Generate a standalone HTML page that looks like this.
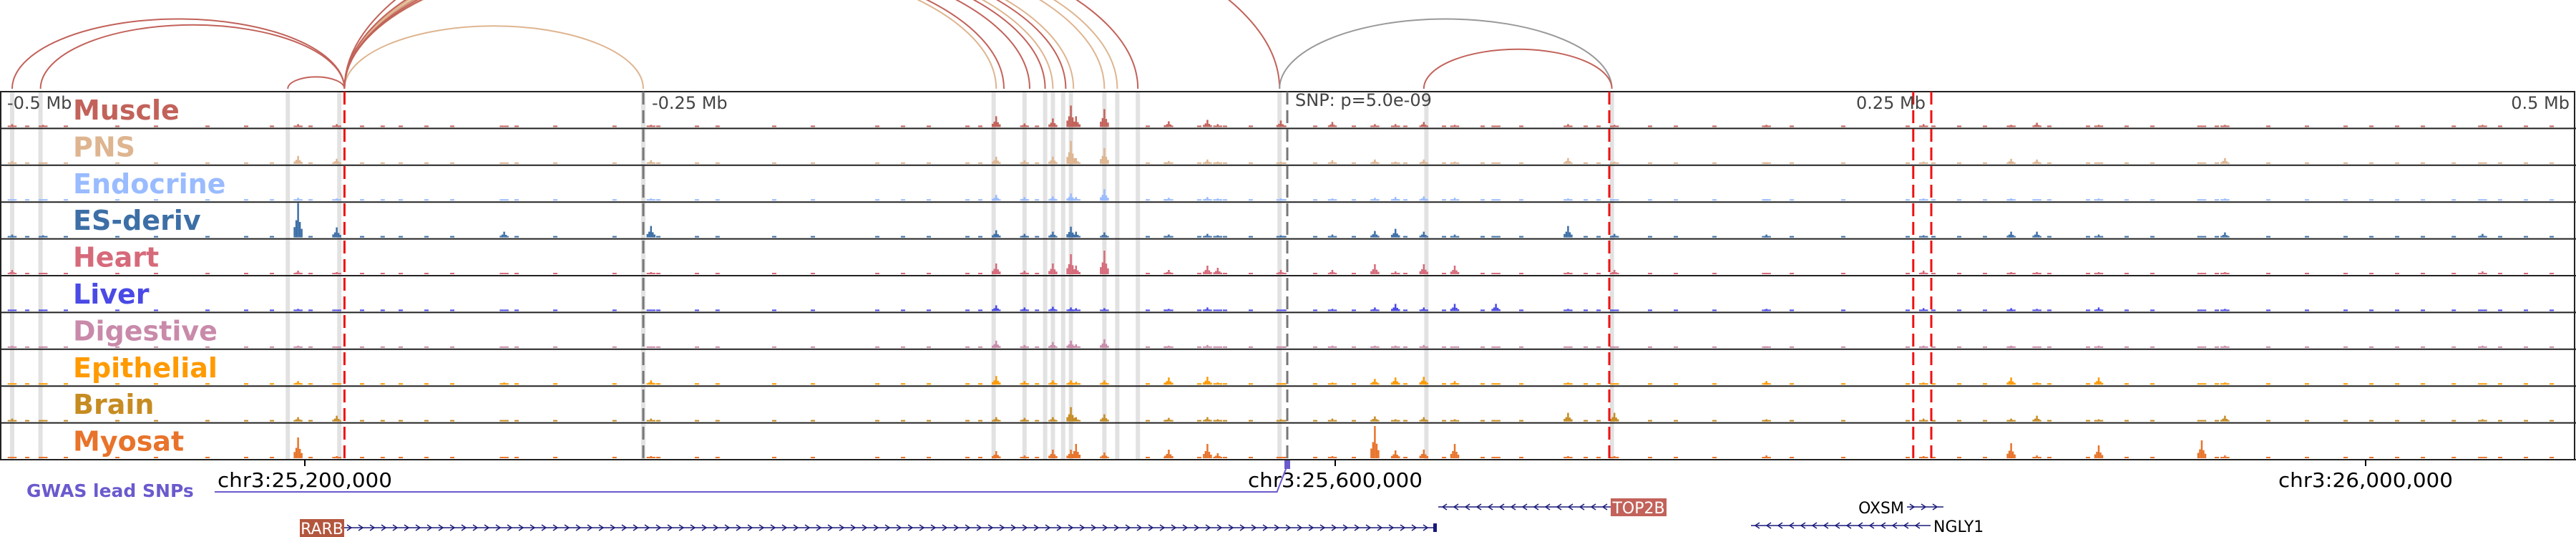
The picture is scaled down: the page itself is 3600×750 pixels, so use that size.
<!DOCTYPE html>
<html><head><meta charset="utf-8"><style>
html,body{margin:0;padding:0;background:#fff;}
svg{display:block;}
text{font-family:"DejaVu Sans","Liberation Sans",sans-serif;}
</style></head><body>
<svg id="chart" width="3600" height="750" viewBox="0 0 3600 750" xmlns="http://www.w3.org/2000/svg">
<g id="arcs"></g>
<g id="highlights"></g>
<g id="tracks"></g>
<g id="vlines"></g>
<g id="labels"></g>
<g id="axis"></g>
<g id="genes"></g>
</svg>
<script>
// ---------- data ----------
const trackNames = ["Muscle","PNS","Endocrine","ES-deriv","Heart","Liver","Digestive","Epithelial","Brain","Myosat"];
const trackColors = ["#c2625a","#deb590","#99bbff","#3d6fa6","#d66a7a","#4a4ae6","#c98aaa","#ff9a00","#c68c22","#e8732a"];
// peak positions in kb relative to lead SNP
const peakKb = [-495,-483,-384,-369,-304,-247,-113,-102,-91,-84,-82,-71,-46,-31,-27,-2.5,17.5,34,42,53,65,81,109,127,186,247,281,291,315,355,364,464];
// heights (px) per track, one per peak
const peakHeights = [
 [4,3,4,4,2,3,15,5,12,30,15,25,8,10,4,9,7,4,4,7,3,2,4,3,3,4,3,6,3,2,3,3],
 [4,2,11,7,2,5,10,5,10,32,8,22,4,6,3,3,5,6,3,6,3,2,8,3,2,3,7,6,2,2,8,2],
 [2,2,4,3,2,3,8,5,6,10,5,16,4,5,3,3,3,4,5,6,4,2,3,2,2,3,3,2,3,2,3,2],
 [4,3,48,14,8,16,10,5,8,15,8,7,4,5,3,3,4,9,12,8,4,2,16,5,4,3,8,8,4,2,7,5],
 [6,2,5,3,2,3,15,5,15,28,12,33,6,12,9,6,6,14,4,14,12,2,3,6,2,5,3,3,3,2,3,4],
 [2,2,3,2,2,2,8,5,6,5,4,4,3,5,2,2,3,5,10,5,10,10,3,2,3,4,4,3,5,2,3,2],
 [3,2,3,2,2,2,10,4,8,10,5,12,3,4,2,2,3,3,3,4,2,2,2,2,2,3,3,2,3,2,3,3],
 [2,2,5,2,3,6,12,5,6,6,4,6,10,11,3,2,3,8,10,11,5,2,3,2,5,3,10,3,10,2,3,2],
 [4,2,6,8,2,4,6,5,6,20,6,10,5,6,3,3,4,7,3,6,3,2,12,12,3,4,4,8,3,2,8,3],
 [2,2,29,3,2,3,10,4,12,12,20,8,12,20,7,2,3,45,11,12,20,2,3,3,4,3,21,4,18,25,4,2]
];
// low-level background signal positions (kb rel. SNP)
const bgKb = [-490,-475,-455,-440,-420,-405,-395,-380,-360,-352,-345,-335,-325,-300,-285,-262,-245,-230,-222,-200,-185,-160,-150,-140,-125,-120,-98,-85,-55,-48,-35,-25,-15,-2,10,25,45,60,75,90,115,120,140,150,165,185,195,215,240,250,260,270,280,295,310,325,335,360,380,395,410,420,430,440,452,470,480,490];
const highlightKb = [-495,-484,-388,-368,-250,-114,-102,-94,-91,-87,-84,-71,-66,-58,-3,54,126];
const redLines = [-366,125,243,250];
const grayLines = [-250,0];
const arcStarts = [-495,-484,-388,-366,-366,-366,-366,-366,-366,-366,-366,-366,-366,-366,-366,-3,53];
const arcEnds   = [-366,-366,-366,-250,-113,-110,-94,-91,-86,-83,-71,-66,-58,-100,-3,126,126];
const arcColors = ["#c2625a","#c2625a","#c2625a","#deb590","#deb590","#c2625a","#c2625a","#deb590","#c2625a","#deb590","#deb590","#deb590","#c2625a","#c2625a","#c2625a","#999999","#c2625a"];
const axisTickKb = [-500,-250,250,500];
const axisTickLabels = ["-0.5 Mb","-0.25 Mb","0.25 Mb","0.5 Mb"];
const chrTickPos = [25200000,25600000,26000000];
const chrTickLabels = ["chr3:25,200,000","chr3:25,600,000","chr3:26,000,000"];

// ---------- scales ----------
const SNP_X = 1799, PX_PER_KB = 3.6;
const xKb = kb => SNP_X + kb*PX_PER_KB;
const xPos = p => 426 + (p-25200000)/1000*PX_PER_KB;
const TOP = 128, TH = 51.4;
const NS = "http://www.w3.org/2000/svg";
function mk(tag, attrs, parent){const e=document.createElementNS(NS,tag);for(const k in attrs)e.setAttribute(k,attrs[k]);parent.appendChild(e);return e;}

// arcs
const gA = document.getElementById('arcs');
arcStarts.forEach((s,i)=>{
  const x1=xKb(s), x2=xKb(arcEnds[i]); const rx=(x2-x1)/2; const ry=Math.max(10,rx*0.42);
  const p=mk('path',{d:`M${x1},124 A${rx},${ry} 0 0 1 ${x2},124`,fill:'none',stroke:arcColors[i],'stroke-width':2},gA);
  
  
});

// highlights
const gH = document.getElementById('highlights');
highlightKb.forEach(k=>{
  const r=mk('rect',{x:xKb(k)-3,y:TOP,width:6,height:TH*10,fill:'#e2e2e2'},gH);
  
  
});

// tracks
const gT = document.getElementById('tracks');
trackNames.forEach((name,t)=>{
  const top=TOP+t*TH, base=top+TH-2;
  const g=mk('g',{},gT);
  
  
  bgKb.forEach(k=>{
    const b=mk('rect',{x:xKb(k),y:base-2,width:6,height:2,fill:trackColors[t]},g);
    
    
  });
  peakKb.forEach((k,i)=>{
    const h=peakHeights[t][i], x=xKb(k);
    const parts=[[-5,0.3],[-2.5,0.5],[0,1],[2.5,0.45],[5,0.25]];
    parts.forEach(([dx,f])=>{
      const hh=Math.max(2,h*f);
      const b=mk('rect',{x:x+dx-1.25,y:base-hh,width:2.5,height:hh,fill:trackColors[t]},g);
      
      
    });
  });
  const ln=mk('line',{x1:0,x2:3600,y1:top+TH,y2:top+TH,stroke:'#222','stroke-width':2},g);
  
  
});
const frame=mk('rect',{x:1,y:TOP,width:3597,height:TH*10,fill:'none',stroke:'#222','stroke-width':2},gT);



// marker lines
const gV=document.getElementById('vlines');
redLines.forEach(k=>{
  const l=mk('line',{x1:xKb(k),x2:xKb(k),y1:TOP,y2:TOP+TH*10,stroke:'#ee1111','stroke-width':3,'stroke-dasharray':'18,8'},gV);
  
  
});
grayLines.forEach(k=>{
  const l=mk('line',{x1:xKb(k),x2:xKb(k),y1:TOP,y2:TOP+TH*10,stroke:'#777','stroke-width':3,'stroke-dasharray':'18,8'},gV);
  
  
});

// labels
const gL=document.getElementById('labels');
trackNames.forEach((n,t)=>{
  const tx=mk('text',{x:102,y:TOP+t*TH+39,'font-size':38,'font-weight':'bold',fill:trackColors[t]},gL);
  tx.textContent=n;
  
  
});
axisTickKb.forEach((k,i)=>{
  const x=xKb(k);
  let ax, anchor;
  if(i===0){ax=10;anchor='start';}
  else if(i===1){ax=x+12;anchor='start';}
  else {ax=x-8;anchor='end';}
  const tx=mk('text',{x:ax,y:152,'font-size':24,fill:'#444','text-anchor':anchor},gL);
  tx.textContent=axisTickLabels[i];
  
  
});
const snpT=mk('text',{x:1810,y:148,'font-size':24,fill:'#444'},gL);
snpT.textContent='SNP: p=5.0e-09';



// genome axis
const gX=document.getElementById('axis');
chrTickPos.forEach((p,i)=>{
  const x=xPos(p);
  mk('line',{x1:x,x2:x,y1:642,y2:651,stroke:'#000','stroke-width':2},gX);
  const tx=mk('text',{x:x,y:680,'font-size':28,'text-anchor':'middle',fill:'#000',textLength:244,lengthAdjust:'spacingAndGlyphs'},gX);
  tx.textContent=chrTickLabels[i];
  
  
});
const gw=mk('text',{x:37,y:694,'font-size':25,'font-weight':'bold',fill:'#6a5acd'},gX);
gw.textContent='GWAS lead SNPs';


const gwl=mk('polyline',{points:`300,687 ${xKb(-4)},687 ${xKb(0)},650`,fill:'none',stroke:'#6a5acd','stroke-width':2},gX);


const gwm=mk('rect',{x:xKb(0)-4,y:643,width:8,height:12,fill:'#6a5acd'},gX);



// genes
const gG=document.getElementById('genes');
function gene(name,x1,x2,y,dir,boxSide,boxed,col){
  const g=mk('g',{},gG);
  
  
  mk('line',{x1:x1,x2:x2,y1:y,y2:y,stroke:'#1a1a7a','stroke-width':1.5},g);
  for(let x=x1+8;x<x2-4;x+=16){
    const d = dir>0 ? `M${x-4},${y-4} L${x+2},${y} L${x-4},${y+4}` : `M${x+4},${y-4} L${x-2},${y} L${x+4},${y+4}`;
    mk('path',{d:d,fill:'none',stroke:'#1a1a7a','stroke-width':1.5},g);
  }
  if(boxed){
    const bx = boxSide==='left'? x1-62 : x2;
    mk('rect',{x:bx,y:y-12,width:boxed,height:25,fill:col},g);
    const t=mk('text',{x:bx+boxed/2,y:y+9,'font-size':22,fill:'#fff','text-anchor':'middle'},g);t.textContent=name;
  } else {
    const t=mk('text',{x:boxSide==='left'?x1-4:x2+4,y:y+9,'font-size':22,fill:'#000','text-anchor':boxSide==='left'?'end':'start'},g);t.textContent=name;
  }
}
gene('RARB',481,2007,737,1,'left',62,'#b3563e');
mk('rect',{x:2003,y:731,width:5,height:12,fill:'#1a1a7a'},gG);
gene('TOP2B',2010,2251,708,-1,'right',78,'#c2625a');
gene('OXSM',2665,2716,708,1,'left',0,'');
gene('NGLY1',2447,2698,734,-1,'right',0,'');
</script>
</body></html>
